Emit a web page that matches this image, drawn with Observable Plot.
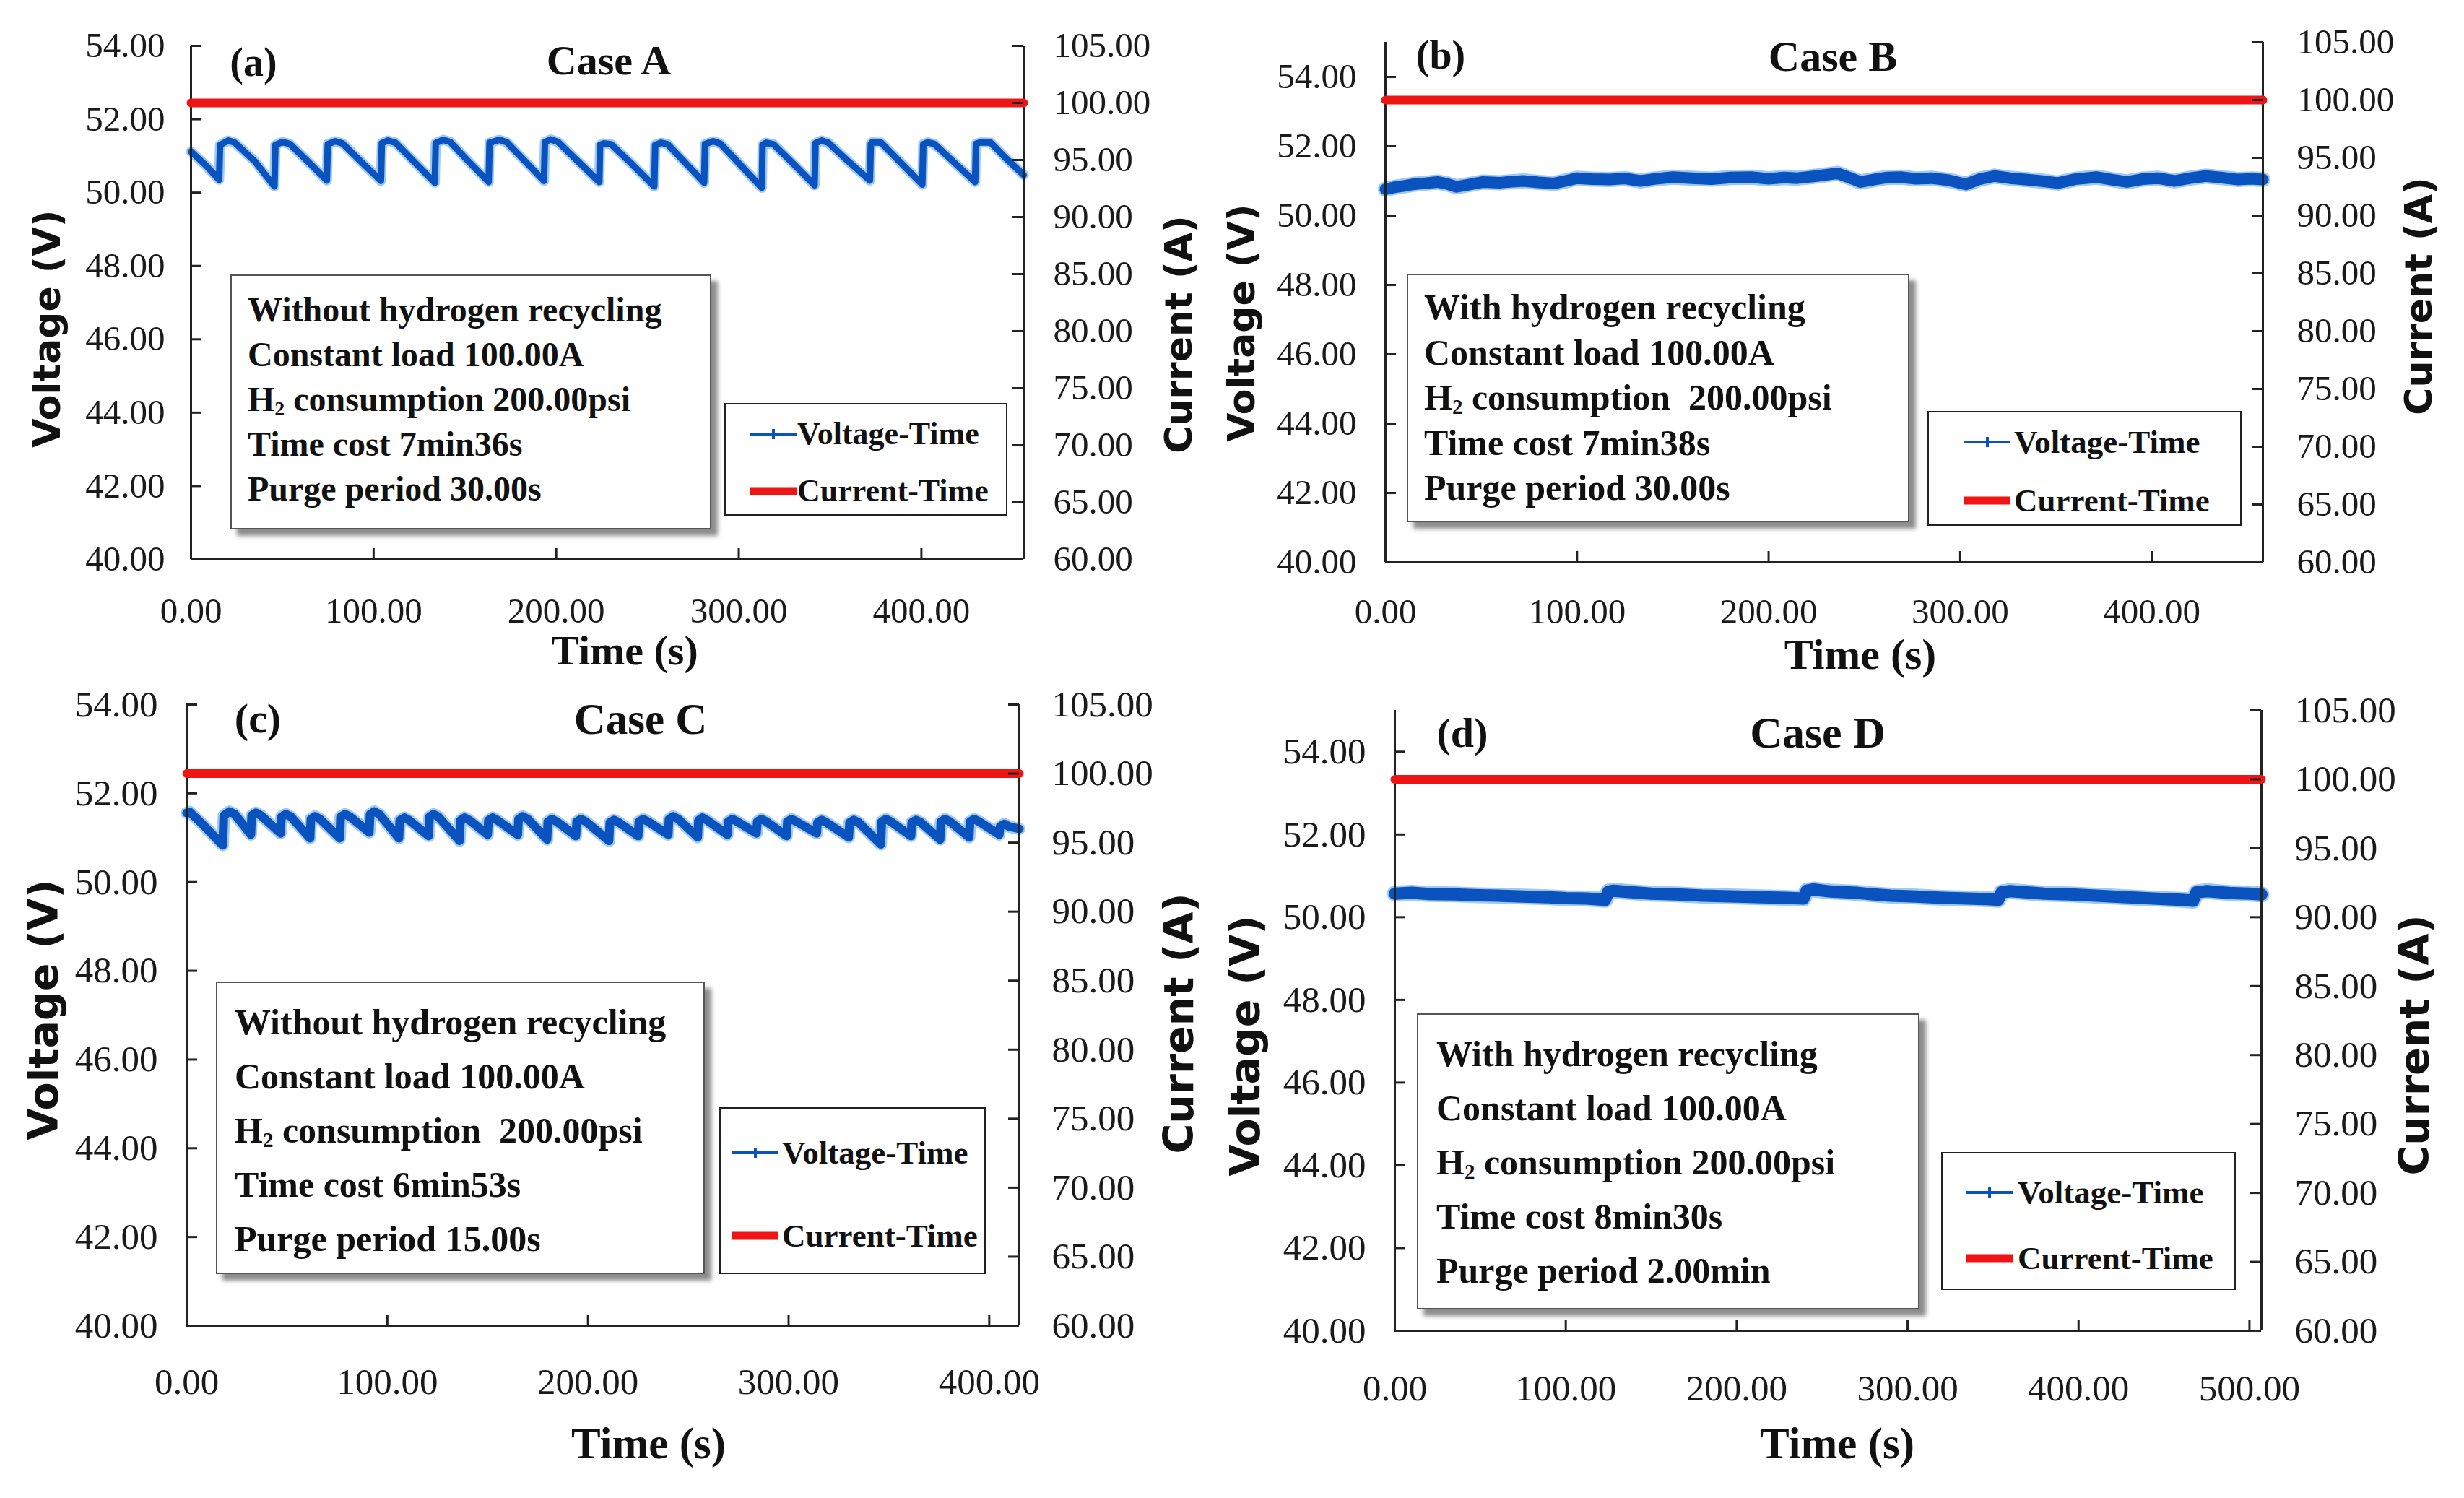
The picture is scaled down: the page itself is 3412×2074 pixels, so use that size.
<!DOCTYPE html>
<html>
<head>
<meta charset="utf-8">
<script src="https://cdn.jsdelivr.net/npm/d3@7"></script>
<script src="https://cdn.jsdelivr.net/npm/@observablehq/plot@0.6"></script>
<style>
  html, body { margin: 0; padding: 0; background: #fff; }
  #root { position: relative; width: 3412px; height: 2074px; background: #fff; overflow: hidden; }
  #root svg text { font-family: "Liberation Serif", "Times New Roman", serif !important; fill: #1a1a1a; }
  .abs { position: absolute; }
  .serif { font-family: "Liberation Serif", "Times New Roman", serif; color: #111; }
  .sans { font-family: "DejaVu Sans", "Liberation Sans", sans-serif; font-weight: bold; color: #111; }
  .center { transform: translate(-50%, -50%); white-space: nowrap; }
  .rot { transform: translate(-50%, -50%) rotate(-90deg); white-space: nowrap; }
  .info { background: #fff; border: 2px solid #555; box-shadow: 9px 9px 6px rgba(0,0,0,0.45); box-sizing: border-box; }
  .info div { font-weight: bold; white-space: nowrap; }
  .legend { background: #fff; border: 2.5px solid #222; box-sizing: border-box; }
  .lrow { position: absolute; left: 0; display: flex; align-items: center; white-space: nowrap; font-weight: bold; }
  .sub { font-size: 58%; position: relative; top: 0.22em; line-height: 0; }
</style>
</head>
<body>
<div id="root"></div>
<script>
// ---------------- data ----------------
const voltTicksA = [40, 42, 44, 46, 48, 50, 52, 54];
const currTicks = [60, 65, 70, 75, 80, 85, 90, 95, 100, 105];
const timeTicks4 = [0, 100, 200, 300, 400];
const timeTicks5 = [0, 100, 200, 300, 400, 500];

// Case A (purge 30 s) voltage
const caseA_time = [0, 8, 15.4, 15.9, 20.5, 24, 35, 45.7, 46.2, 50, 54, 64, 74.4, 74.9, 79, 83, 93, 104, 104.5, 107.8, 112, 122,
  133.5, 134, 138, 142, 152, 163, 163.5, 169, 173, 183, 193.3, 193.8, 197, 201, 212, 223.6, 224, 226, 230, 241, 253.7, 254.2,
  257.5, 261, 271, 281, 281.5, 286, 290, 301, 312.6, 313, 315, 319, 330, 341.5, 342, 345.3, 349, 360, 371.8, 372.3, 373, 378,
  389, 400.5, 401, 403.5, 407, 418, 429.4, 429.9, 432.4, 438, 446, 456];
const caseA_volt = [51.12, 50.75, 50.35, 51.30, 51.42, 51.36, 50.85, 50.17, 51.30, 51.38, 51.33, 50.85, 50.33, 51.32, 51.40, 51.34, 50.85, 50.32, 51.35, 51.42, 51.36, 50.85,
  50.27, 51.35, 51.44, 51.38, 50.85, 50.29, 51.36, 51.44, 51.37, 50.85, 50.32, 51.38, 51.45, 51.38, 50.85, 50.29, 51.30, 51.34, 51.32, 50.80, 50.17, 51.30,
  51.36, 51.32, 50.80, 50.27, 51.32, 51.40, 51.33, 50.75, 50.13, 51.30, 51.36, 51.32, 50.78, 50.20, 51.35, 51.42, 51.36, 50.85, 50.33, 51.33, 51.37, 51.36,
  50.80, 50.22, 51.32, 51.37, 51.33, 50.82, 50.29, 51.33, 51.37, 51.36, 50.95, 50.48];

// Case B (with recycling, purge 30 s) voltage
const caseB_time = [0, 5, 10, 14, 20, 27, 32, 37, 44, 51, 60, 66, 72, 80, 88, 94, 100, 108, 117, 125, 133, 141, 150, 160, 170, 180,
  191, 200, 208, 215, 225, 236, 242, 248, 256, 262, 269, 277, 285, 294, 303, 310, 318, 326, 334, 342, 351, 360, 371, 379, 387, 395,
  403, 412, 420, 428, 436, 445, 452, 458];
const caseB_volt = [50.76, 50.82, 50.86, 50.90, 50.93, 50.97, 50.92, 50.83, 50.90, 50.97, 50.95, 50.98, 51.00, 50.96, 50.93, 51.00, 51.08, 51.05, 51.04, 51.07, 51.00, 51.06, 51.11, 51.08, 51.05, 51.10,
  51.11, 51.06, 51.10, 51.08, 51.14, 51.22, 51.10, 50.97, 51.05, 51.10, 51.11, 51.06, 51.08, 51.02, 50.90, 51.05, 51.14, 51.08, 51.04, 51.00, 50.94, 51.05, 51.11, 51.04, 50.97, 51.05,
  51.08, 51.00, 51.08, 51.14, 51.10, 51.04, 51.06, 51.04];

// Case C (purge 15 s) voltage
const caseC_time = [0, 1.5, 8, 18, 18.5, 21.3, 24,
  32, 32.4, 34.5, 37, 46.8, 47.2, 49.5, 52, 61.5, 61.9, 64, 66.5, 76.3, 76.7, 79, 81.5,
  91, 91.4, 93.5, 96, 105.8, 106.2, 108.5, 111, 120.6, 121, 123, 125.5, 136, 136.4, 138.5, 141,
  150, 150.4, 152.5, 155, 165, 165.4, 167.5, 170, 179.6, 180, 182, 184.5, 194, 194.4, 196.5, 199,
  210.5, 210.9, 213, 215.5, 225, 225.4, 227.5, 230, 240, 240.4, 242.5, 245, 254.7, 255.1, 257, 259.5,
  269.5, 269.9, 272, 274.5, 284, 284.4, 286.5, 289, 299, 299.4, 301.5, 304, 314, 314.4, 316.5, 319,
  330, 330.4, 332.5, 335, 346, 346.4, 348.5, 351, 361, 361.4, 363.5, 366, 375.5, 375.9, 378, 380.5,
  390, 390.4, 392.5, 395, 405, 405.4, 407.5, 410, 415];
const caseC_volt = [51.56, 51.58, 51.30, 50.83, 51.50, 51.59, 51.53,
  51.07, 51.50, 51.56, 51.50, 51.10, 51.47, 51.53, 51.47, 50.99, 51.42, 51.48, 51.42, 50.99, 51.47, 51.53, 51.47,
  51.12, 51.53, 51.59, 51.53, 50.99, 51.39, 51.45, 51.39, 51.04, 51.47, 51.53, 51.47, 50.93, 51.39, 51.45, 51.39,
  51.07, 51.39, 51.45, 51.39, 51.07, 51.42, 51.48, 51.42, 50.96, 51.36, 51.42, 51.36, 51.04, 51.36, 51.42, 51.36,
  50.93, 51.34, 51.40, 51.34, 51.04, 51.36, 51.42, 51.36, 51.07, 51.42, 51.48, 51.42, 51.01, 51.39, 51.45, 51.39,
  51.07, 51.36, 51.42, 51.36, 51.10, 51.36, 51.42, 51.36, 51.04, 51.36, 51.42, 51.36, 51.10, 51.34, 51.40, 51.34,
  51.01, 51.34, 51.40, 51.34, 50.85, 51.36, 51.42, 51.36, 51.04, 51.34, 51.40, 51.34, 50.96, 51.36, 51.42, 51.36,
  51.01, 51.36, 51.42, 51.36, 51.07, 51.25, 51.31, 51.25, 51.20];

// Case D (with recycling, purge 2 min) voltage
const caseD_time = [0, 10, 20, 35, 50, 60, 75, 90, 100, 112, 123, 125, 128, 140, 150, 165, 180, 200, 215, 228, 239, 241, 245, 255,
  270, 280, 290, 305, 320, 335, 345, 353, 355, 360, 370, 380, 395, 410, 420, 435, 450, 460, 467, 469, 475, 490, 500, 507];
const caseD_volt = [50.57, 50.59, 50.56, 50.55, 50.53, 50.52, 50.50, 50.48, 50.46, 50.45, 50.42, 50.62, 50.64, 50.60, 50.57, 50.55, 50.52, 50.50, 50.48, 50.47, 50.45, 50.64, 50.67, 50.62,
  50.59, 50.55, 50.52, 50.50, 50.47, 50.45, 50.44, 50.42, 50.60, 50.63, 50.60, 50.57, 50.55, 50.52, 50.50, 50.47, 50.44, 50.42, 50.40, 50.60, 50.63, 50.58, 50.57, 50.55];

// constant load current (A)
const currentLoad = 100;

// ---------------- layout ----------------
const BLUE = "#0a52bd", HALO = "#4f9ce8", RED = "#ef1515", AX = "#222";
const H2 = 'H<span class="sub">2</span>';
const panels = [
  { key: "a", title: "Case A", time: caseA_time, volt: caseA_volt, xMax: 456, vMax: 54, xTicks: timeTicks4,
    frame: { L: 264, R: 1417, T: 63, B: 774 }, sw: 9, tickFont: 49, padL: 36, padR: 41, padX: 53,
    tag: [351, 86, 56], head: [843, 83, 58], vlab: [65, 455, 52], clab: [1632, 463, 52], tlab: [865, 900, 58],
    info: { box: [319, 380, 666, 353], font: 48, pad: 16, lh: 62, padL: 22,
      lines: ["Without hydrogen recycling", "Constant load 100.00A", H2 + " consumption 200.00psi", "Time cost 7min36s", "Purge period 30.00s"] },
    leg: { box: [1003, 558, 392, 156], font: 44, rows: [41, 120], sx: 36, tx: 101 } },
  { key: "b", title: "Case B", time: caseB_time, volt: caseB_volt, xMax: 458, vMax: 55, xTicks: timeTicks4,
    frame: { L: 1918, R: 3133, T: 58, B: 778 }, sw: 16, tickFont: 49, padL: 40, padR: 47, padX: 50,
    tag: [1995, 76, 56], head: [2538, 78, 60], vlab: [1719, 447, 52], clab: [3349, 410, 52], tlab: [2576, 906, 60],
    info: { box: [1948, 379, 696, 344], font: 50, pad: 13, lh: 62.5, padL: 22,
      lines: ["With hydrogen recycling", "Constant load 100.00A", H2 + " consumption&nbsp; 200.00psi", "Time cost 7min38s", "Purge period 30.00s"] },
    leg: { box: [2669, 569, 435, 159], font: 45, rows: [41, 122], sx: 51, tx: 120 } },
  { key: "c", title: "Case C", time: caseC_time, volt: caseC_volt, xMax: 415, vMax: 54, xTicks: timeTicks4,
    frame: { L: 258, R: 1411, T: 975, B: 1835 }, sw: 12, tickFont: 51, padL: 40, padR: 45, padX: 58,
    tag: [357, 994, 58], head: [887, 996, 61], vlab: [60, 1398, 57], clab: [1632, 1417, 57], tlab: [898, 1999, 61],
    info: { box: [299, 1359, 677, 405], font: 50, pad: 16.5, lh: 75, padL: 24,
      lines: ["Without hydrogen recycling", "Constant load 100.00A", H2 + " consumption&nbsp; 200.00psi", "Time cost 6min53s", "Purge period 15.00s"] },
    leg: { box: [996, 1533, 369, 231], font: 45, rows: [61, 176], sx: 18, tx: 87 } },
  { key: "d", title: "Case D", time: caseD_time, volt: caseD_volt, xMax: 507, vMax: 55, xTicks: timeTicks5,
    frame: { L: 1931, R: 3131, T: 983, B: 1842 }, sw: 17, tickFont: 51, padL: 40, padR: 46, padX: 60,
    tag: [2025, 1014, 58], head: [2517, 1014, 62], vlab: [1724, 1448, 57], clab: [3343, 1447, 57], tlab: [2544, 1999, 61],
    info: { box: [1962, 1403, 696, 410], font: 50, pad: 16.5, lh: 75, padL: 25,
      lines: ["With hydrogen recycling", "Constant load 100.00A", H2 + " consumption 200.00psi", "Time cost 8min30s", "Purge period 2.00min"] },
    leg: { box: [2688, 1595, 408, 191], font: 45, rows: [54, 145], sx: 35, tx: 106 } }
];

const root = document.getElementById("root");
const mL = 260, mR = 300, mT = 40, mB = 170;

function place(el, left, top) {
  el.style.position = "absolute";
  el.style.left = left + "px";
  el.style.top = top + "px";
  root.appendChild(el);
}

function addText(html, cls, x, y, size, bold) {
  const d = document.createElement("div");
  d.className = "abs " + cls;
  d.style.left = x + "px";
  d.style.top = y + "px";
  d.style.fontSize = size + "px";
  if (bold) d.style.fontWeight = "bold";
  d.innerHTML = html;
  root.appendChild(d);
}

for (const p of panels) {
  const f = p.frame;
  const innerW = f.R - f.L, innerH = f.B - f.T;
  const width = innerW + mL + mR, height = innerH + mT + mB;
  const n = Math.min(p.time.length, p.volt.length);
  const vdata = d3.range(n).map(i => ({ t: p.time[i], v: p.volt[i] }));
  const cdata = [{ t: 0, c: currentLoad }, { t: p.xMax, c: currentLoad }];
  const vTicks = voltTicksA.filter(v => v <= p.vMax);
  const font = { fontFamily: "Liberation Serif", fontSize: p.tickFont };
  const common = {
    width, height, marginLeft: mL, marginRight: mR, marginTop: mT, marginBottom: mB,
    style: { background: "transparent", overflow: "visible", fontFamily: "Liberation Serif, serif", fontSize: p.tickFont + "px", color: "#1a1a1a" }
  };

  const p1 = Plot.plot({
    ...common,
    x: { domain: [0, p.xMax], label: null },
    y: { domain: [40, p.vMax], label: null },
    marks: [
      Plot.line(vdata, { x: "t", y: "v", stroke: HALO, strokeWidth: p.sw + 5, strokeOpacity: 0.55, strokeLinejoin: "round" }),
      Plot.line(vdata, { x: "t", y: "v", stroke: BLUE, strokeWidth: p.sw, strokeLinejoin: "round", strokeLinecap: "round" }),
      Plot.ruleX([0], { stroke: AX, strokeWidth: 3 }),
      Plot.ruleX([p.xMax], { stroke: AX, strokeWidth: 3 }),
      Plot.ruleY([40], { stroke: AX, strokeWidth: 3 }),
      Plot.tickY(vTicks, { y: d => d, insetRight: innerW - 15, stroke: AX, strokeWidth: 3 }),
      Plot.tickX(p.xTicks, { x: d => d, insetTop: innerH - 15, stroke: AX, strokeWidth: 3 }),
      Plot.axisY({ ticks: vTicks, anchor: "left", tickSize: 0, tickPadding: p.padL, tickFormat: d => d.toFixed(2), label: null, ...font }),
      Plot.axisX({ ticks: p.xTicks, anchor: "bottom", tickSize: 0, tickPadding: p.padX, tickFormat: d => d.toFixed(2), label: null, ...font })
    ]
  });
  place(p1, f.L - mL, f.T - mT);

  const p2 = Plot.plot({
    ...common,
    x: { domain: [0, p.xMax], axis: null },
    y: { domain: [60, 105], label: null },
    marks: [
      Plot.line(cdata, { x: "t", y: "c", stroke: RED, strokeWidth: 12 }),
      Plot.tickY(currTicks, { y: d => d, insetLeft: innerW - 15, stroke: AX, strokeWidth: 3 }),
      Plot.axisY({ ticks: currTicks, anchor: "right", tickSize: 0, tickPadding: p.padR, tickFormat: d => d.toFixed(2), label: null, ...font })
    ]
  });
  place(p2, f.L - mL, f.T - mT);

  // titles
  addText("(" + p.key + ")", "serif center", p.tag[0], p.tag[1], p.tag[2], true);
  addText(p.title, "serif center", p.head[0], p.head[1], p.head[2], true);
  addText("Voltage (V)", "sans rot", p.vlab[0], p.vlab[1], p.vlab[2]);
  addText("Current (A)", "sans rot", p.clab[0], p.clab[1], p.clab[2]);
  addText("Time (s)", "serif center", p.tlab[0], p.tlab[1], p.tlab[2], true);

  // info box
  const ib = p.info;
  const box = document.createElement("div");
  box.className = "abs info serif";
  Object.assign(box.style, { left: ib.box[0] + "px", top: ib.box[1] + "px", width: ib.box[2] + "px", height: ib.box[3] + "px",
    fontSize: ib.font + "px", paddingTop: ib.pad + "px", paddingLeft: ib.padL + "px", lineHeight: ib.lh + "px" });
  box.innerHTML = ib.lines.map(l => '<div style="height:' + ib.lh + 'px">' + l + "</div>").join("");
  root.appendChild(box);

  // legend
  const lg = p.leg;
  const leg = document.createElement("div");
  leg.className = "abs legend serif";
  Object.assign(leg.style, { left: lg.box[0] + "px", top: lg.box[1] + "px", width: lg.box[2] + "px", height: lg.box[3] + "px", fontSize: lg.font + "px" });
  const items = [
    { name: "Voltage-Time", svg: `<svg width="64" height="20"><line x1="0" y1="10" x2="64" y2="10" stroke="${BLUE}" stroke-width="4"/><line x1="32" y1="3" x2="32" y2="17" stroke="${BLUE}" stroke-width="4"/></svg>` },
    { name: "Current-Time", svg: `<svg width="64" height="20"><line x1="0" y1="10" x2="64" y2="10" stroke="${RED}" stroke-width="11"/></svg>` }
  ];
  items.forEach((it, i) => {
    const row = document.createElement("div");
    row.className = "lrow";
    row.style.top = (lg.rows[i] - 30) + "px";
    row.style.height = "60px";
    row.innerHTML = `<span style="position:absolute;left:${lg.sx - 2}px;top:20px;line-height:0">${it.svg}</span><span style="position:absolute;left:${lg.tx - 2}px;top:0;line-height:60px">${it.name}</span>`;
    leg.appendChild(row);
  });
  root.appendChild(leg);
}
</script>
</body>
</html>
